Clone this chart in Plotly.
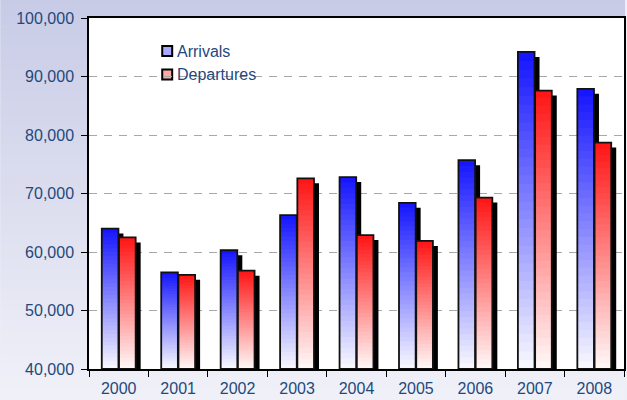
import plotly.graph_objects as go

# ---- data ----
years = ["2000", "2001", "2002", "2003", "2004", "2005", "2006", "2007", "2008"]
arrivals = [64000, 56500, 60300, 66300, 72800, 68400, 75700, 94200, 87900]
departures = [62500, 56100, 56800, 72600, 62900, 61900, 69300, 87600, 78700]
y_tick_vals = [40000, 50000, 60000, 70000, 80000, 90000, 100000]
series_names = ["Arrivals", "Departures"]

# ---- style ----
Y0, Y1 = 40000, 100000
W, H = 627, 400
ML, MR, MT, MB = 89, 1, 18, 31
TXT = "#1F497D"
FONT = "Liberation Sans, Arial, sans-serif"
BAR_W = 0.28
N_SEG = 36
SHADOW_DX = 0.084      # category units (~5 px)
SHADOW_DY = 855        # value units (~5 px)

series = [
    (series_names[0], arrivals, -0.285, (20, 20, 255), (250, 250, 255), "#a8a8ff"),
    (series_names[1], departures, 0.005, (255, 20, 20), (255, 249, 249), "#ffa8a8"),
]

pw = W - ML - MR
ph = H - MT - MB


def px_x(px):
    return (px - ML) / pw


def px_y(py):
    return 1 - (py - MT) / ph


def mix(c_top, c_bot, t):
    r = [round(c_bot[i] + (c_top[i] - c_bot[i]) * t) for i in range(3)]
    return "rgb(%d,%d,%d)" % tuple(r)


fig = go.Figure()

# shadows
for name, vals, off, ctop, cbot, leg in series:
    fig.add_trace(go.Bar(
        x=years, y=[v - Y0 - SHADOW_DY for v in vals], base=Y0,
        offset=off + SHADOW_DX, width=BAR_W,
        marker=dict(color="black", line=dict(width=0)),
        showlegend=False, hoverinfo="skip"))

# gradient bars
for name, vals, off, ctop, cbot, leg in series:
    for k in range(N_SEG):
        f = k / N_SEG
        fig.add_trace(go.Bar(
            x=years,
            y=[(v - Y0) * (1 - f) for v in vals],
            base=[Y0 + (v - Y0) * f for v in vals],
            offset=off, width=BAR_W,
            marker=dict(color=mix(ctop, cbot, (k + 0.5) / N_SEG), line=dict(width=0)),
            showlegend=False, hoverinfo="skip"))
    # outline
    fig.add_trace(go.Bar(
        x=years, y=[v - Y0 for v in vals], base=Y0,
        offset=off, width=BAR_W, name=name,
        marker=dict(color="rgba(0,0,0,0)", line=dict(color="#111111", width=1.8)),
        showlegend=False))

# background gradient (outside plot area) + white plot area
x0p, x1p = -ML / pw, 1 + MR / pw
y0p, y1p = -MB / ph, 1 + MT / ph
shapes = []
NB = 80
top_c = (200, 203, 230)
bot_c = (240, 241, 248)
for b in range(NB):
    ya = y0p + (y1p - y0p) * b / NB
    yb = y0p + (y1p - y0p) * (b + 1) / NB + 0.002
    t = (b + 0.5) / NB
    shapes.append(dict(type="rect", xref="paper", yref="paper", layer="below",
                       x0=x0p, x1=x1p, y0=ya, y1=yb, line=dict(width=0),
                       fillcolor=mix(top_c, bot_c, t)))
shapes.append(dict(type="rect", xref="paper", yref="paper", layer="below",
                   x0=0, x1=1, y0=0, y1=1, line=dict(width=0), fillcolor="white"))

# legend (white box over gridlines, swatches, labels)
shapes.append(dict(type="rect", xref="paper", yref="paper", layer="between",
                   x0=px_x(152), x1=px_x(288), y0=px_y(90), y1=px_y(36),
                   line=dict(width=0), fillcolor="white"))
annotations = []
for i, (name, vals, off, ctop, cbot, leg) in enumerate(series):
    cy = 51 + i * 23.5
    shapes.append(dict(type="rect", xref="paper", yref="paper", layer="between",
                       x0=px_x(162.5), x1=px_x(172.5), y0=px_y(cy + 5), y1=px_y(cy - 5),
                       line=dict(color="black", width=2), fillcolor=leg))
    annotations.append(dict(xref="paper", yref="paper", x=px_x(175), y=px_y(cy),
                            xanchor="left", yanchor="middle", showarrow=False,
                            text=name, font=dict(family=FONT, size=16, color=TXT)))

fig.update_layout(
    width=W, height=H,
    margin=dict(l=ML, r=MR, t=MT, b=MB, pad=0),
    barmode="overlay",
    paper_bgcolor="#eef0f8",
    plot_bgcolor="white",
    shapes=shapes,
    annotations=annotations,
    font=dict(family=FONT, size=16, color=TXT),
    showlegend=False,
    hovermode=False,
)
fig.update_xaxes(
    type="category", categoryorder="array", categoryarray=years,
    range=[-0.5, len(years) - 0.5],
    tickson="boundaries", ticks="outside", ticklen=6, tickcolor="black",
    showline=True, linecolor="black", linewidth=1.5, mirror=True,
    showgrid=False, tickfont=dict(family=FONT, size=16, color=TXT),
    ticklabelstandoff=4,
)
fig.update_yaxes(
    range=[Y0, Y1], tickvals=y_tick_vals, tickformat=",d",
    ticks="outside", ticklen=6, tickcolor="black",
    showline=True, linecolor="black", linewidth=1.5, mirror=True,
    showgrid=True, gridcolor="#a8a8a8", gridwidth=1, griddash="8px,7px",
    zeroline=False, tickfont=dict(family=FONT, size=16, color=TXT),
    ticklabelstandoff=4,
)

fig.write_html("out.html", config={"displayModeBar": False},
               post_script="document.body.style.margin='0';")
